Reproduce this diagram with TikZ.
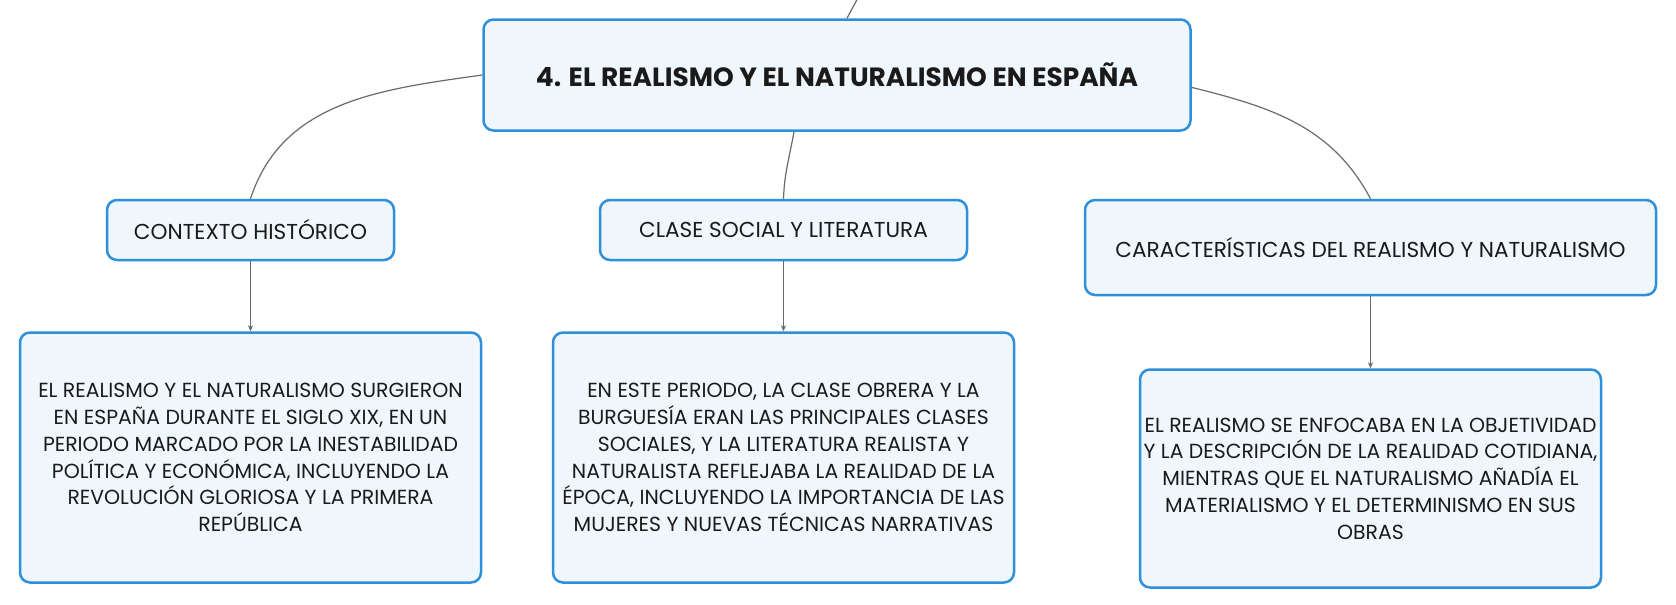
\documentclass[tikz,border=0pt]{standalone}
\usepackage{fontspec}
\setmainfont{Poppins}
\usepackage{tikz}
\usetikzlibrary{arrows.meta,positioning}
\usepackage{xcolor}
\definecolor{boxblue}{HTML}{2E8FDA}
\definecolor{boxfill}{HTML}{EFF7FD}
\definecolor{linkgray}{HTML}{6A6A6A}
\definecolor{inkblack}{HTML}{1A1A1A}

\begin{document}
\begin{tikzpicture}[
  x=1pt, y=1pt,
  basenode/.style={rectangle, rounded corners=5pt, draw=boxblue, fill=boxfill,
                   line width=1.25pt, text=inkblack, align=center, inner sep=0pt},
  mainnode/.style={basenode, minimum width=353.5pt, minimum height=55.5pt,
                   font=\fontsize{13.2}{15}\selectfont\bfseries},
  topicnode/.style={basenode, minimum height=30pt, font=\fontsize{10.8}{13.6}\selectfont},
  textnode/.style={basenode, minimum width=230.5pt, font=\fontsize{10.2}{13.4}\selectfont},
  link/.style={linkgray, line width=0.6pt},
  >={Stealth[length=3pt,width=2.6pt]}
]
\useasboundingbox (0,0) rectangle (838,-302.5);

% Main topic
\node[mainnode] (main) at (418.5,-37.5) {4. EL REALISMO Y EL NATURALISMO EN ESPAÑA};
\coordinate (up) at (430,3);

% Subtopics
\node[topicnode, minimum width=143.5pt] (ctx) at (125.25,-115) {CONTEXTO HISTÓRICO};
\node[topicnode, minimum width=183.5pt] (cls) at (391.75,-115) {CLASE SOCIAL Y LITERATURA};
\node[topicnode, minimum width=285.5pt, minimum height=47.5pt] (car) at (685.25,-123.75)
  {CARACTERÍSTICAS DEL REALISMO Y NATURALISMO};

% Detail texts
\node[textnode, minimum height=125pt, below=35pt of ctx] (ctxtext)
  {EL REALISMO Y EL NATURALISMO SURGIERON\\
   EN ESPAÑA DURANTE EL SIGLO XIX, EN UN\\
   PERIODO MARCADO POR LA INESTABILIDAD\\
   POLÍTICA Y ECONÓMICA, INCLUYENDO LA\\
   REVOLUCIÓN GLORIOSA Y LA PRIMERA\\
   REPÚBLICA};
\node[textnode, minimum height=125pt, below=35pt of cls] (clstext)
  {EN ESTE PERIODO, LA CLASE OBRERA Y LA\\
   BURGUESÍA ERAN LAS PRINCIPALES CLASES\\
   SOCIALES, Y LA LITERATURA REALISTA Y\\
   NATURALISTA REFLEJABA LA REALIDAD DE LA\\
   ÉPOCA, INCLUYENDO LA IMPORTANCIA DE LAS\\
   MUJERES Y NUEVAS TÉCNICAS NARRATIVAS};
\node[textnode, minimum height=109pt, below=36pt of car] (cartext)
  {EL REALISMO SE ENFOCABA EN LA OBJETIVIDAD\\
   Y LA DESCRIPCIÓN DE LA REALIDAD COTIDIANA,\\
   MIENTRAS QUE EL NATURALISMO AÑADÍA EL\\
   MATERIALISMO Y EL DETERMINISMO EN SUS\\
   OBRAS};

% Links from main topic
\draw[link] ([xshift=5pt]main.north) -- (up);
\draw[link] (main.west) to[out=188, in=72] (ctx.north);
\draw[link] ([xshift=-21.5pt]main.south) to[out=-100, in=88] (cls.north);
\draw[link] (main.358) to[out=-14, in=118] (car.north);

% Links to details
\draw[link, ->] (ctx) -- (ctxtext);
\draw[link, ->] (cls) -- (clstext);
\draw[link, ->] (car) -- (cartext);

\end{tikzpicture}
\end{document}
